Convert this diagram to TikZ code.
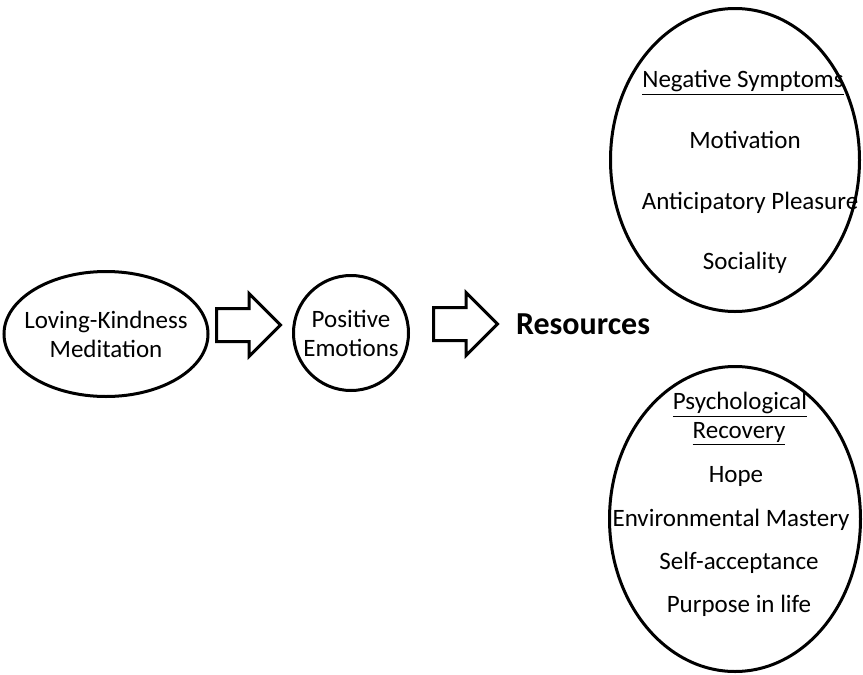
\documentclass[tikz,border=0pt]{standalone}
\usepackage{fontspec}
\setmainfont{Carlito}
\usetikzlibrary{shapes.geometric,shapes.arrows,positioning}

\begin{document}
\begin{tikzpicture}[
    x=0.5pt, y=-0.5pt,
    oval/.style={draw, ellipse, line width=1.5pt, inner sep=0pt},
    intext/.style={align=center, inner sep=0pt, font=\fontsize{12.5}{14.5}\selectfont},
    bigarrow/.style={draw, single arrow, line width=1.5pt, inner xsep=0pt, inner ysep=7.5pt,
        single arrow head extend=7.5pt, single arrow tip angle=90, minimum height=32pt},
    lbl/.style={font=\fontsize{12.5}{14.5}\selectfont, inner sep=0pt, anchor=base}
]
\useasboundingbox (0,0) rectangle (863,675);

\node[oval, minimum width=102pt, minimum height=62.5pt,
    label={[intext]center:Loving-Kindness\\Meditation}] (lkm) at (106,334) {};
\node[oval, circle, minimum size=57.5pt,
    label={[intext]center:Positive\\Emotions}] (pos) at (351,333) {};

\node[bigarrow, anchor=west] (a1) at (215,325) {};
\node[bigarrow, anchor=west] (a2) at (432,324) {};
\node[right=8pt of a2, inner sep=0pt, font=\fontsize{16}{18}\selectfont\bfseries] (res) {Resources};

% negative symptoms
\node[oval, minimum width=124.5pt, minimum height=151.5pt] (neg) at (735,160) {};
\node[lbl] (negt) at (743,87) {\underline{Negative Symptoms}};
\node[lbl] (mot) at (745,148) {Motivation};
\node[lbl] (ant) at (750,209) {Anticipatory Pleasure};
\node[lbl] (soc) at (745,269) {Sociality};

% psychological recovery
\node[oval, minimum width=125.5pt, minimum height=152.5pt] (rec) at (735,519) {};
\node[lbl] (rect) at (740,409) {\underline{Psychological}};
\node[lbl] (rect2) at (739,438) {\underline{Recovery}};
\node[lbl] (hope) at (736,482) {Hope};
\node[lbl] (env) at (731,526) {Environmental Mastery};
\node[lbl] (self) at (739,569) {Self-acceptance};
\node[lbl] (purp) at (739,612) {Purpose in life};
\end{tikzpicture}
\end{document}
